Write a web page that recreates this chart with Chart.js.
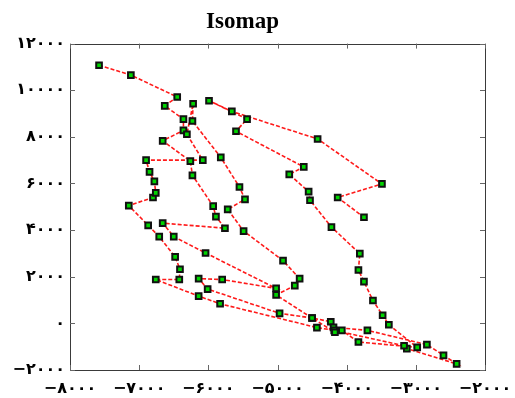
<!DOCTYPE html>
<html>
<head>
<meta charset="utf-8">
<script src="https://cdn.jsdelivr.net/npm/chart.js@4"></script>
<style>
  html, body { margin: 0; padding: 0; background: #fff; }
  #wrap { width: 515px; height: 398px; }
</style>
</head>
<body>
<div id="wrap"><canvas id="isoChart" width="515" height="398"></canvas></div>
<script>
// embedding coordinates, in the order the trajectory is drawn
const pathX = [-7580, -7120, -6450, -6630, -6360, -6360, -6660, -6260, -6230, -5930,
  -5890, -5760, -6660, -6500, -6040, -5020, -5800, -6140, -6010, -4970,
  -4500, -4230, -4190, -3700, -2840, -2600, -2410, -3130, -3170, -4180,
  -4430, -5830, -6140, -6760, -6420, -6410, -6480, -6710, -6870, -7150,
  -6800, -6760, -6780, -6850, -6900, -6080, -6310, -6220, -6230, -5820,
  -5550, -5470, -5720, -5490, -4920, -4680, -4750, -5020, -4500, -4170,
  -4070, -3830, -2980, -3390, -3480, -3620, -3750, -3830, -3810, -4220,
  -4530, -4550, -4830, -4620, -5600, -5440, -5990, -5660, -4420, -3490,
  -4130, -3750];
const pathY = [11070, 10650, 9710, 9330, 8760, 8280, 7830, 6960, 6350, 5030,
  4580, 4080, 4300, 3720, 3020, 1500, 1880, 1920, 1470, 430,
  230, 70, -170, -300, -910, -1370, -1740, -1080, -960, -300,
  -180, 840, 1170, 1880, 1880, 2320, 2850, 3720, 4200, 5050,
  5400, 5600, 6090, 6500, 7000, 7000, 8110, 9420, 8680, 7120,
  5850, 5320, 4890, 3960, 2690, 1920, 1620, 1220, 230, -380,
  -300, -800, -1030, -60, 350, 980, 1790, 2290, 2990, 4130,
  5280, 5650, 6390, 6710, 8240, 8760, 9550, 9090, 7910, 5980,
  5400, 4550];

const xTicks = [-8000, -7000, -6000, -5000, -4000, -3000, -2000];
const yTicks = [-2000, 0, 2000, 4000, 6000, 8000, 10000, 12000];

const persianDigits = "۰۱۲۳۴۵۶۷۸۹";
function toPersian(v) {
  const s = String(Math.abs(v)).replace(/[0-9]/g, d => persianDigits[+d]);
  return v < 0 ? "\u2212" + s : s;
}

// box round the axes plus inward tick marks, like the original figure
const boxTicks = {
  id: "boxTicks",
  afterDraw(chart) {
    const { ctx, chartArea: a, scales } = chart;
    ctx.save();
    ctx.strokeStyle = "#3a3a3a";
    ctx.lineWidth = 1;
    ctx.strokeRect(Math.round(a.left) + 0.5, Math.round(a.top) + 0.5,
      Math.round(a.right - a.left), Math.round(a.bottom - a.top));
    ctx.strokeStyle = "#666";
    ctx.beginPath();
    xTicks.forEach(v => {
      const px = Math.round(scales.x.getPixelForValue(v)) + 0.5;
      ctx.moveTo(px, a.bottom); ctx.lineTo(px, a.bottom - 5);
      ctx.moveTo(px, a.top); ctx.lineTo(px, a.top + 5);
    });
    yTicks.forEach(v => {
      const py = Math.round(scales.y.getPixelForValue(v)) + 0.5;
      ctx.moveTo(a.left, py); ctx.lineTo(a.left + 5, py);
      ctx.moveTo(a.right, py); ctx.lineTo(a.right - 5, py);
    });
    ctx.stroke();
    ctx.restore();
  }
};

const ctx = document.getElementById("isoChart").getContext("2d");
const chart = new Chart(ctx, {
  type: "scatter",
  data: {
    datasets: [{
      data: pathX.map((x, i) => ({ x: x, y: pathY[i] })),
      showLine: true,
      borderColor: "#ff1a1a",
      borderWidth: 1.6,
      borderDash: [4, 2],
      pointStyle: "rect",
      pointRadius: 4,
      pointBorderWidth: 2,
      pointBorderColor: "#111",
      pointBackgroundColor: "#00d400",
      tension: 0
    }]
  },
  options: {
    responsive: false,
    animation: false,
    layout: { padding: { left: 0, right: 30, top: 0, bottom: 0 } },
    plugins: {
      legend: { display: false },
      tooltip: { enabled: false },
      title: {
        display: true,
        text: "Isomap",
        color: "#000",
        font: { family: "Liberation Serif", size: 23, weight: "bold" },
        padding: { top: 8, bottom: 8 }
      }
    },
    scales: {
      x: {
        type: "linear",
        min: -8000, max: -2000,
        afterBuildTicks: s => { s.ticks = xTicks.map(v => ({ value: v })); },
        afterFit: s => { s.height = 28; s.paddingLeft = 0; s.paddingRight = 0; },
        grid: { display: false, drawTicks: false },
        border: { display: false },
        ticks: {
          padding: 9,
          color: "#000",
          font: { family: "DejaVu Sans", size: 16, weight: "bold" },
          callback: v => toPersian(v)
        }
      },
      y: {
        type: "linear",
        min: -2000, max: 12000,
        afterBuildTicks: s => { s.ticks = yTicks.map(v => ({ value: v })); },
        afterFit: s => { s.width = 70; s.paddingTop = 0; s.paddingBottom = 0; },
        grid: { display: false, drawTicks: false },
        border: { display: false },
        ticks: {
          padding: 5,
          color: "#000",
          font: { family: "DejaVu Sans", size: 16, weight: "bold" },
          callback: v => toPersian(v)
        }
      }
    }
  },
  plugins: [boxTicks]
});
</script>
</body>
</html>
